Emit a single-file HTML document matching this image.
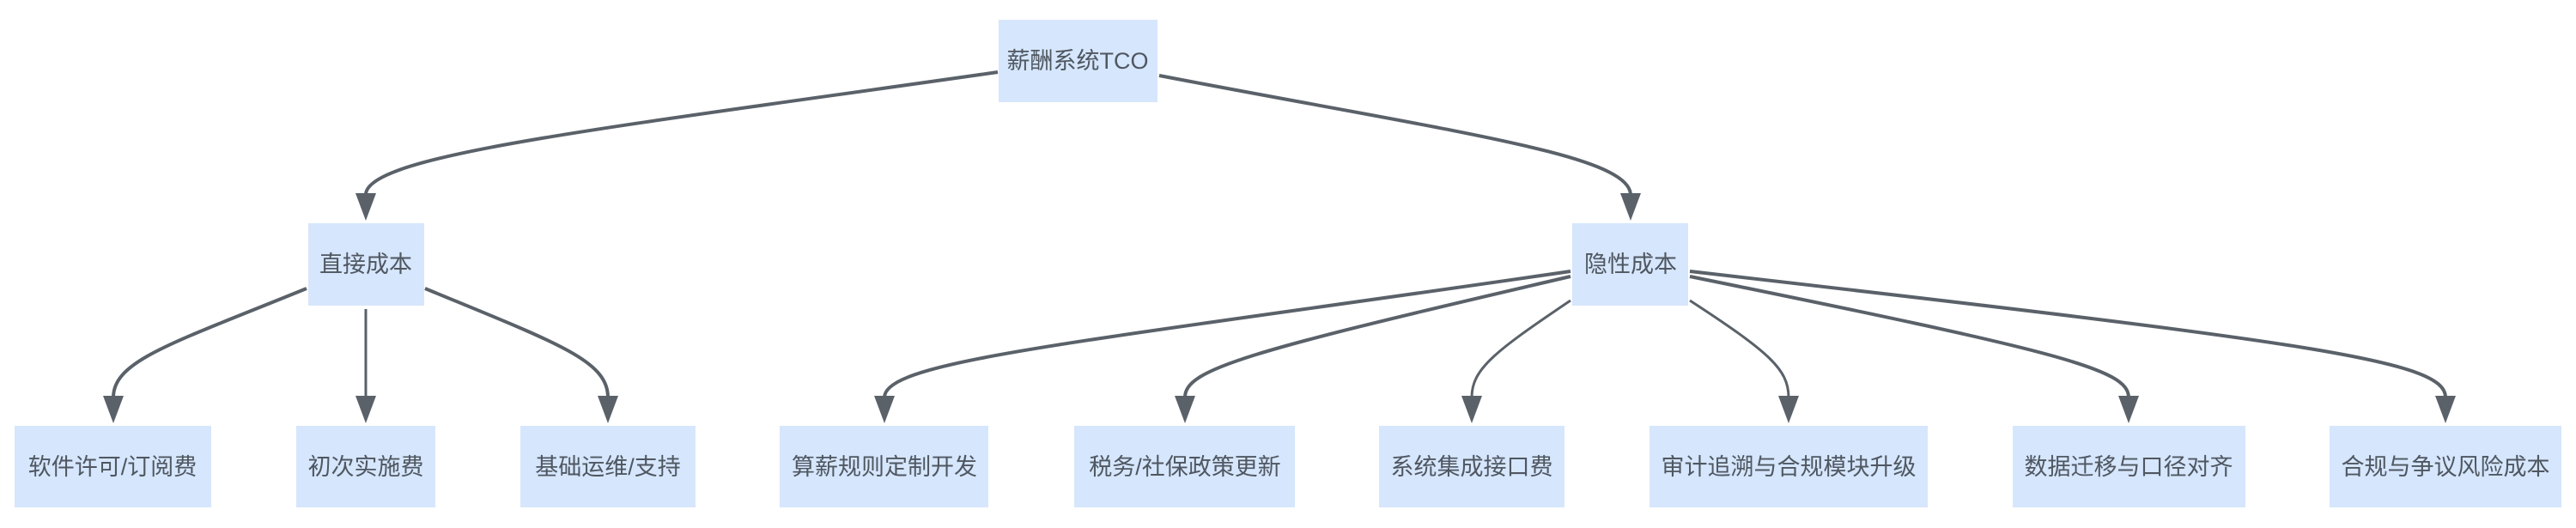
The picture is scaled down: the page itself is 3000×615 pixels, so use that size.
<!DOCTYPE html>
<html><head><meta charset="utf-8"><style>
html,body{margin:0;padding:0;background:#fff;}
svg{display:block;}
text{font-family:"Liberation Sans","Noto Sans CJK SC",sans-serif;font-size:27px;fill:#4f5761;}
</style></head><body>
<svg width="3000" height="615" viewBox="0 0 3000 615" xmlns="http://www.w3.org/2000/svg">
<defs>
<marker id="a" markerWidth="24" markerHeight="32" refX="12" refY="32" orient="auto" markerUnits="userSpaceOnUse" viewBox="0 0 24 32">
<path d="M0,0 L24,0 L12,32 Z" fill="#5a6169"/>
</marker>
</defs>
<g fill="none" stroke="#5a6169" stroke-width="4">
<path d="M1162,84 C700,150 430,180 426,226"/>
<path d="M1350,88 C1700,155 1895,180 1899,226"/>
<path d="M357,336 C200,400 132,420 132,463"/>
<path d="M426,360 L426,463" stroke-width="3"/>
<path d="M495,336 C650,400 708,420 708,463"/>
<path d="M1829,316 C1250,400 1030,420 1030,463"/>
<path d="M1829,322 C1450,410 1380,430 1380,463"/>
<path d="M1829,350 C1740,410 1714,430 1714,463" stroke-width="3"/>
<path d="M1968,350 C2060,410 2083,430 2083,463" stroke-width="3"/>
<path d="M1968,322 C2400,410 2479,430 2479,463"/>
<path d="M1968,316 C2700,400 2848,420 2848,463"/>
</g>
<g fill="#5a6169">
<path d="M414,225 L438,225 L426,257 Z"/>
<path d="M1887,225 L1911,225 L1899,257 Z"/>
<path d="M120,461 L144,461 L132,493 Z"/>
<path d="M414,461 L438,461 L426,493 Z"/>
<path d="M696,461 L720,461 L708,493 Z"/>
<path d="M1018,461 L1042,461 L1030,493 Z"/>
<path d="M1368,461 L1392,461 L1380,493 Z"/>
<path d="M1702,461 L1726,461 L1714,493 Z"/>
<path d="M2071,461 L2095,461 L2083,493 Z"/>
<path d="M2467,461 L2491,461 L2479,493 Z"/>
<path d="M2836,461 L2860,461 L2848,493 Z"/>
</g>
<g fill="#d6e6fc">
<rect x="1163" y="23" width="185" height="96"/>
<rect x="359" y="260" width="135" height="96"/>
<rect x="1831" y="260" width="135" height="96"/>
<rect x="17" y="496" width="229" height="95"/>
<rect x="345" y="496" width="162" height="95"/>
<rect x="606" y="496" width="204" height="95"/>
<rect x="908" y="496" width="243" height="95"/>
<rect x="1251" y="496" width="257" height="95"/>
<rect x="1606" y="496" width="216" height="95"/>
<rect x="1921" y="496" width="324" height="95"/>
<rect x="2344" y="496" width="271" height="95"/>
<rect x="2713" y="496" width="270" height="95"/>
</g>
<g text-anchor="middle">
<text x="1255" y="80">薪酬系统TCO</text>
<text x="426" y="317">直接成本</text>
<text x="1899" y="317">隐性成本</text>
<text x="131" y="553">软件许可/订阅费</text>
<text x="426" y="553">初次实施费</text>
<text x="708" y="553">基础运维/支持</text>
<text x="1030" y="553">算薪规则定制开发</text>
<text x="1380" y="553">税务/社保政策更新</text>
<text x="1714" y="553">系统集成接口费</text>
<text x="2083" y="553">审计追溯与合规模块升级</text>
<text x="2479" y="553">数据迁移与口径对齐</text>
<text x="2848" y="553">合规与争议风险成本</text>
</g>
</svg>
</body></html>
